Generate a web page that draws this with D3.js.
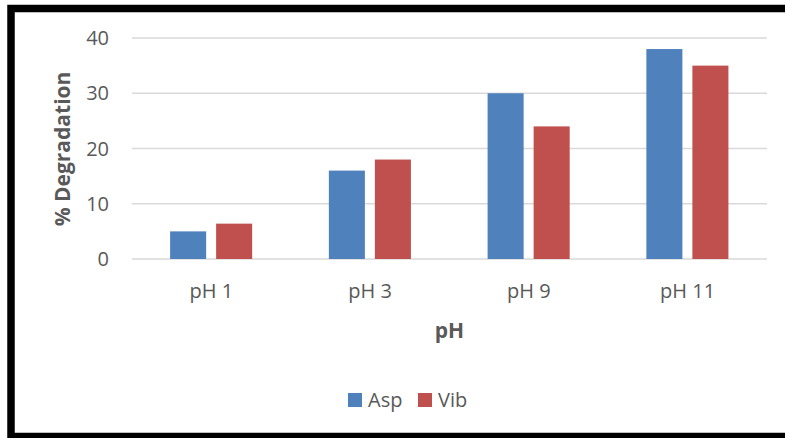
<!DOCTYPE html>
<meta charset="utf-8">
<script src="https://cdn.jsdelivr.net/npm/d3@7"></script>
<style>
body { margin: 0; background: #fff; overflow: hidden; }
svg { display: block; font-family: "Open Sans", sans-serif; }
.grid line { stroke: #d9d9d9; stroke-width: 1.5; }
.tick-label { fill: #595959; font-size: 20px; }
.title { fill: #595959; font-size: 21px; font-weight: bold; }
</style>
<body>
<script>

var categories = ['pH 1', 'pH 3', 'pH 9', 'pH 11']
var seriesNames = ['Asp', 'Vib']
var asp = [5, 16, 30, 38]
var vib = [6.4, 18, 24, 35]
var yTicks = [0, 10, 20, 30, 40]
var colors = ['#4f81bd', '#c0504d']

var width = 785
var height = 438
var plotLeft = 132, plotRight = 767, plotTop = 38, plotBottom = 259

var svg = d3.select('body').append('svg')
    .attr('width', width)
    .attr('height', height)

var x = d3.scaleBand().domain(categories).range([plotLeft, plotRight])
var bw = x.bandwidth()
var xs = d3.scaleBand().domain(seriesNames)
    .range([bw * 0.24, bw * 0.757])
    .paddingInner(0.217)
var y = d3.scaleLinear().domain([0, 40]).range([plotBottom, plotTop])

// gridlines
svg.append('g').attr('class', 'grid')
  .selectAll('line').data(yTicks).enter().append('line')
    .attr('x1', plotLeft).attr('x2', plotRight)
    .attr('y1', d => y(d)).attr('y2', d => y(d))

// y tick labels
svg.append('g').selectAll('text').data(yTicks).enter().append('text')
    .attr('class', 'tick-label')
    .attr('x', 109)
    .attr('y', d => y(d) + 7)
    .attr('text-anchor', 'end')
    .text(d => d)

// bars
var rows = categories.map((c, i) => ({cat: c, vals: [asp[i], vib[i]]}))
var groups = svg.append('g').selectAll('g').data(rows).enter().append('g')
    .attr('transform', d => 'translate(' + x(d.cat) + ',0)')
groups.selectAll('rect')
    .data(d => d.vals.map((v, j) => ({name: seriesNames[j], v: v, c: colors[j]})))
    .enter().append('rect')
    .attr('x', d => xs(d.name))
    .attr('y', d => y(d.v))
    .attr('width', xs.bandwidth())
    .attr('height', d => plotBottom - y(d.v))
    .attr('fill', d => d.c)

// x tick labels
svg.append('g').selectAll('text').data(categories).enter().append('text')
    .attr('class', 'tick-label')
    .attr('x', d => x(d) + bw / 2)
    .attr('y', 298)
    .attr('text-anchor', 'middle')
    .text(d => d)

// axis titles
svg.append('text').attr('class', 'title')
    .attr('x', (plotLeft + plotRight) / 2).attr('y', 338)
    .attr('text-anchor', 'middle')
    .text('pH')
svg.append('text').attr('class', 'title')
    .attr('transform', 'translate(70,149) rotate(-90)')
    .attr('text-anchor', 'middle')
    .text('% Degradation')

// legend
var legend = svg.append('g').selectAll('g').data(seriesNames).enter().append('g')
    .attr('transform', (d, i) => 'translate(' + (348 + i * 70) + ',393)')
legend.append('rect').attr('width', 14).attr('height', 14)
    .attr('fill', (d, i) => colors[i])
legend.append('text').attr('class', 'tick-label')
    .attr('x', 20).attr('y', 14)
    .text(d => d)

// frame
svg.append('path')
    .attr('d', 'M800,8.5 H11 V436.5 H800')
    .attr('fill', 'none')
    .attr('stroke', '#000')
    .attr('stroke-width', 7.5)

</script>
</body>
